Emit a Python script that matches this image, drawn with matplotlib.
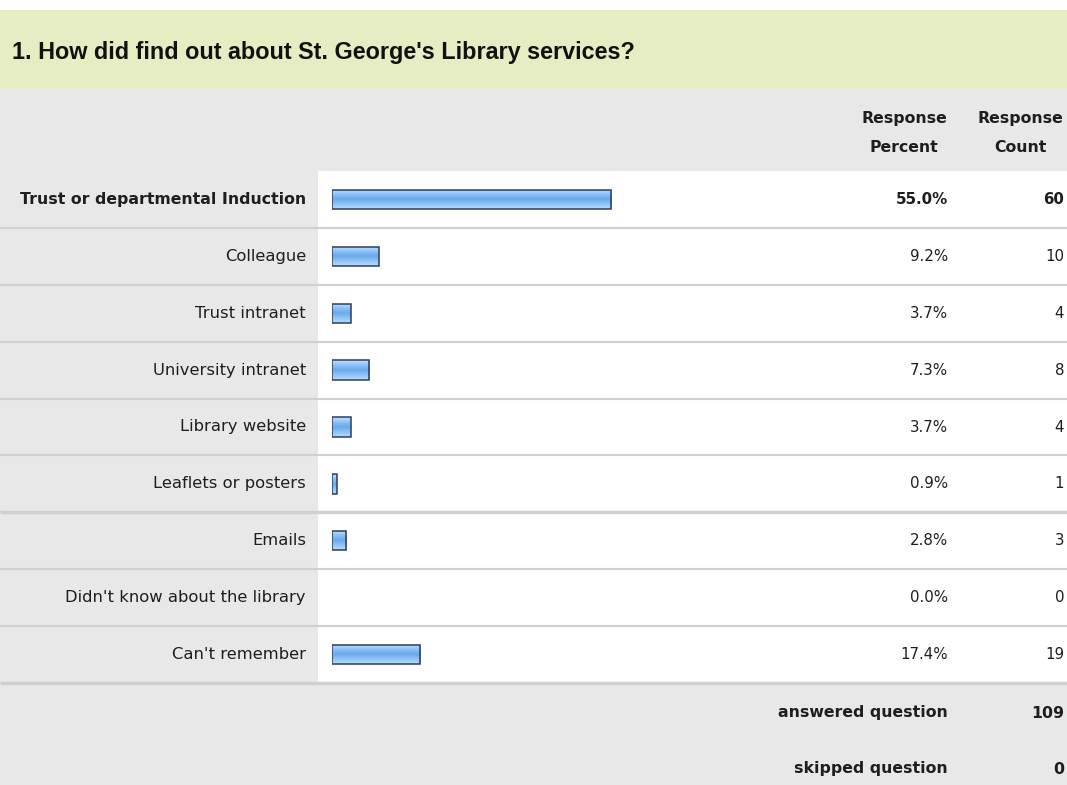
import matplotlib
matplotlib.use("Agg")
import matplotlib.pyplot as plt
import numpy as np
from matplotlib.colors import LinearSegmentedColormap

title = "1. How did find out about St. George's Library services?"
categories = ["Trust or departmental Induction", "Colleague", "Trust intranet",
              "University intranet", "Library website", "Leaflets or posters",
              "Emails", "Didn't know about the library", "Can't remember"]
percents = [55.0, 9.2, 3.7, 7.3, 3.7, 0.9, 2.8, 0.0, 17.4]
counts = [60, 10, 4, 8, 4, 1, 3, 0, 19]
answered = 109
skipped = 0

W, H = 1067, 785
fig = plt.figure(figsize=(W / 100, H / 100), dpi=100)
fig.patch.set_facecolor("white")

# background axes in pixel coordinates
bg = fig.add_axes([0, 0, 1, 1])
bg.set_xlim(0, W)
bg.set_ylim(H, 0)
bg.axis("off")

GRAY = "#e8e8e8"
SEP = "#d0d0d0"
TXT = "#1e1e1e"
FS = 11.3
bg.add_patch(plt.Rectangle((0, 10), W, 78, color="#e6edc2", lw=0))
bg.add_patch(plt.Rectangle((0, 88), W, H - 88, color=GRAY, lw=0))
bg.text(12, 52, title, fontsize=16.8, family="Liberation Sans", fontweight="bold",
        color="#111111", va="center", ha="left")

hfont = dict(family="DejaVu Sans", fontsize=FS, fontweight="bold", color=TXT)
bg.text(904, 118, "Response", ha="center", va="center", **hfont)
bg.text(904, 147, "Percent", ha="center", va="center", **hfont)
bg.text(1020, 118, "Response", ha="center", va="center", **hfont)
bg.text(1020, 147, "Count", ha="center", va="center", **hfont)

top, rowh = 171, 512 / len(categories)
bg.add_patch(plt.Rectangle((318, top), W - 318, rowh * len(categories), color="white", lw=0))
for i, (cat, p, c) in enumerate(zip(categories, percents, counts)):
    yc = top + rowh * (i + 0.5)
    bold = (i == 0)
    fw = "bold" if bold else "normal"
    bg.text(306, yc, cat, ha="right", va="center", family="DejaVu Sans",
            fontsize=FS if bold else FS + 0.5, fontweight=fw, color=TXT)
    bg.text(948, yc, f"{p:.1f}%", ha="right", va="center", family="DejaVu Sans",
            fontsize=FS - 0.5, fontweight=fw, color=TXT)
    bg.text(1064, yc, f"{c}", ha="right", va="center", family="DejaVu Sans",
            fontsize=FS - 0.5, fontweight=fw, color=TXT)
    yb = top + rowh * (i + 1)
    lw = 2.5 if i in (5, 8) else 1.5
    bg.plot([0, W], [yb, yb], color=SEP, lw=lw, solid_capstyle="butt")

ffont = dict(family="DejaVu Sans", fontsize=FS, fontweight="bold", color=TXT)
bg.text(948, 713, "answered question", ha="right", va="center", **ffont)
bg.text(1064, 713, f"{answered}", ha="right", va="center", **ffont)
bg.text(948, 769, "skipped question", ha="right", va="center", **ffont)
bg.text(1064, 769, f"{skipped}", ha="right", va="center", **ffont)

# bar axes
x0, x100 = 332, 840
ax = fig.add_axes([x0 / W, (H - (top + rowh * len(categories))) / H,
                   (x100 - x0) / W, rowh * len(categories) / H])
ax.axis("off")
ax.patch.set_alpha(0)

ypos = np.arange(len(categories))
bars = ax.barh(ypos, percents, height=0.34, color="#86bdf2", edgecolor="#2e3c5c",
               linewidth=1.1, zorder=3)
cmap = LinearSegmentedColormap.from_list("g", ["#c4e0ff", "#8cc2f6", "#6aa9ec", "#8fc4f5", "#b8daf9"])
grad = np.linspace(0, 1, 64).reshape(-1, 1)
for b, p in zip(bars, percents):
    if p <= 0:
        b.set_visible(False)
        continue
    x, y = b.get_x(), b.get_y()
    w, h = b.get_width(), b.get_height()
    im = ax.imshow(grad, cmap=cmap, aspect="auto", extent=(x, x + w, y + h, y),
                   zorder=2, interpolation="bilinear")
    im.set_clip_path(b)
    b.set_facecolor("none")
ax.set_xlim(0, 100)
ax.set_ylim(len(categories) - 0.5, -0.5)

fig.savefig("out.png", dpi=100)
